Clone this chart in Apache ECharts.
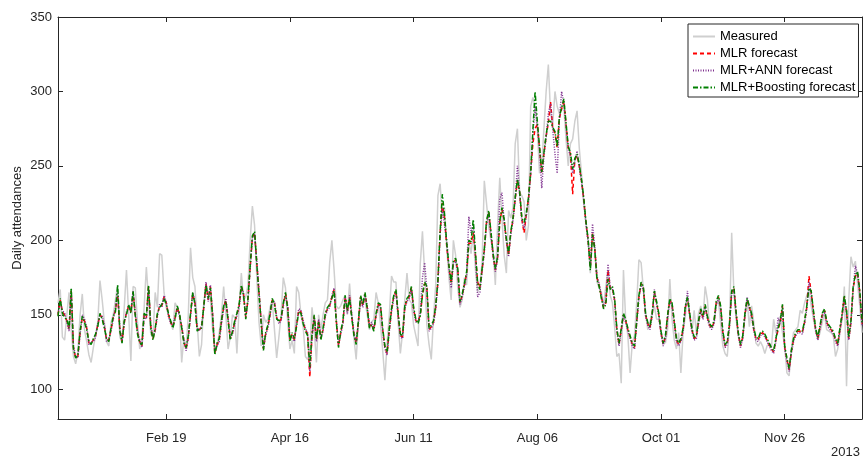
<!DOCTYPE html>
<html><head><meta charset="utf-8">
<script src="https://cdn.jsdelivr.net/npm/echarts@6/dist/echarts.min.js"></script>
<style>html,body{margin:0;padding:0;background:#fff}#c{width:864px;height:459px}</style>
</head><body><div id="c"></div>
<script>
const yearLabel = '2013';
const tickLabels = ['Feb 19','Apr 16','Jun 11','Aug 06','Oct 01','Nov 26'];
const seriesNames = ['Measured','MLR forecast','MLR+ANN forecast','MLR+Boosting forecast'];

const measured = [
158,167,135,133,150,165,140,122,117,125,
150,164,140,132,123,118,128,136,145,173,
160,145,132,129,145,150,160,170,135,131,
155,180,150,119,169,168,145,127,135,155,
182,160,137,135,165,155,191,190,165,155,
150,145,140,158,155,150,118,135,127,150,
195,175,169,145,122,130,158,170,165,160,
140,127,128,138,150,169,150,127,135,150,
148,124,155,178,160,162,170,200,223,210,
175,145,129,150,145,147,155,160,140,121,
135,150,175,168,145,127,133,124,169,165,
150,142,122,120,125,155,140,118,150,140,
150,158,160,185,200,180,156,154,156,160,
163,150,171,150,134,120,145,159,160,160,
150,140,145,147,165,158,144,126,106,131,
150,176,172,172,145,124,138,160,178,160,
158,143,136,129,184,206,178,143,130,120,
148,170,230,238,215,222,195,175,160,200,
190,168,155,160,175,170,200,191,205,180,
165,170,185,240,225,209,200,193,170,210,
242,215,190,178,220,215,222,265,275,232,
230,226,200,210,290,296,290,275,245,250,
275,300,318,285,278,300,290,285,290,290,
268,250,265,268,280,287,262,245,225,212,
200,178,203,195,172,168,165,156,169,180,
163,158,142,122,124,104,180,147,136,111,
131,136,158,187,185,167,153,140,145,152,
156,147,147,139,133,131,140,174,147,133,
127,138,111,138,149,162,149,138,153,138,
151,156,147,169,160,142,142,144,156,160,
144,129,124,122,142,205,165,147,136,131,
133,149,160,142,156,145,131,129,132,129,
124,129,131,128,147,138,142,149,138,129,
111,109,127,138,140,142,153,151,158,163,
167,156,147,140,133,138,145,151,140,139,
138,136,122,127,138,147,169,102,160,189,
182,186,171,156,138];

const mlr = [
150,160,152,150,146,140,166,128,121,122,
138,148,146,141,131,131,133,136,143,150,
148,142,133,133,140,148,153,163,140,132,
145,151,156,152,165,150,138,132,129,150,
148,169,142,134,140,150,156,156,162,158,
150,145,142,148,155,150,142,132,127,135,
150,164,158,140,140,142,155,171,160,169,
150,124,130,133,145,155,160,147,134,138,
145,150,156,169,164,148,160,182,202,205,
185,165,145,127,137,142,150,160,158,148,
145,147,157,164,155,133,137,133,143,153,
152,145,140,137,108,136,149,133,146,134,
140,150,154,156,162,167,146,129,138,145,
162,152,162,149,137,131,145,162,156,164,
155,142,144,140,150,157,156,140,128,124,
140,153,162,166,150,136,135,155,160,162,
168,154,146,145,150,163,171,168,140,142,
145,155,172,205,225,215,196,182,171,185,
187,180,158,163,170,178,198,198,205,190,
172,168,180,193,212,219,205,190,180,188,
212,221,213,200,190,205,214,228,240,232,
214,205,217,228,245,265,275,278,262,245,
258,270,279,293,275,272,262,282,288,294,
278,262,258,231,254,257,250,240,228,212,
200,182,205,195,175,170,162,155,158,180,
168,168,160,140,130,140,150,146,140,135,
130,128,145,162,171,168,150,144,141,150,
165,158,150,138,130,135,149,160,157,145,
133,130,133,140,155,161,150,140,134,135,
145,153,148,156,148,143,141,145,158,162,
155,138,129,131,143,165,168,151,137,129,
135,150,160,155,150,140,134,133,137,138,
136,133,130,127,125,133,140,145,156,128,
120,113,125,133,137,139,139,138,145,155,
176,165,152,140,134,142,150,153,145,142,
140,138,133,130,140,150,162,152,134,145,
168,176,178,165,144];

const ann = [
151,159,153,151,145,139,165,129,122,121,
137,150,147,142,130,132,132,135,144,149,
149,143,132,134,139,147,154,165,141,133,
144,152,155,153,166,151,139,133,128,149,
147,168,143,135,139,149,157,155,163,159,
149,144,143,149,154,149,143,133,126,134,
149,165,159,141,139,143,154,172,159,170,
151,125,129,132,144,154,161,148,135,137,
144,149,155,168,165,149,159,181,201,204,
186,166,146,128,136,141,149,159,159,149,
144,146,156,163,156,134,136,132,144,154,
153,146,141,138,112,135,148,132,147,135,
139,149,153,155,163,168,147,130,137,144,
161,151,163,150,138,132,144,161,155,163,
156,143,145,141,149,156,155,139,127,123,
139,152,161,165,149,135,134,154,159,161,
167,153,145,146,151,175,185,167,139,141,
144,154,171,204,222,210,200,181,168,184,
186,179,157,162,169,177,216,205,211,189,
162,165,179,192,211,218,204,189,179,187,
228,232,212,199,189,204,213,227,250,231,
213,208,216,227,244,271,290,277,261,235,
257,269,285,292,274,258,245,281,300,292,
277,261,257,245,253,260,249,239,227,211,
199,183,211,196,176,171,163,156,159,184,
169,167,159,139,129,139,149,145,139,134,
129,127,144,161,170,167,149,143,140,149,
167,157,149,137,129,134,148,159,156,144,
132,129,132,139,154,166,149,139,133,134,
144,152,147,155,147,142,140,144,157,161,
154,137,128,130,142,164,167,150,136,128,
134,149,162,154,149,139,133,132,136,137,
135,132,129,126,124,132,148,144,155,127,
119,112,124,132,136,138,138,137,144,154,
172,164,151,139,133,141,149,152,144,141,
139,137,132,129,139,149,161,151,133,144,
167,183,177,164,143];

const boost = [
149,161,151,148,147,141,168,127,121,123,
139,149,145,140,132,130,134,137,142,151,
147,141,134,132,141,149,152,170,139,131,
146,150,157,151,166,149,137,131,130,151,
149,170,141,133,141,151,155,157,161,157,
151,146,141,147,156,151,141,131,128,136,
151,165,157,139,141,141,156,170,161,168,
149,123,131,134,146,156,159,146,133,139,
146,151,157,170,163,147,161,183,203,206,
184,164,144,126,138,143,151,161,157,147,
146,148,158,165,154,132,138,134,142,152,
151,144,139,136,115,137,150,134,145,133,
141,151,155,157,161,166,145,128,139,146,
163,153,161,148,136,130,146,163,157,165,
154,141,143,139,151,158,157,141,129,125,
141,154,163,167,151,137,136,156,161,163,
169,155,147,144,149,164,172,169,141,143,
146,156,173,206,231,217,198,183,172,186,
188,181,159,164,171,179,200,199,214,192,
171,167,181,194,213,220,206,191,181,189,
213,222,214,201,191,206,215,229,241,233,
215,212,218,229,246,274,300,280,263,246,
259,271,280,280,276,273,263,283,289,295,
279,263,259,248,255,258,251,241,229,213,
201,180,204,194,174,169,161,154,157,174,
167,169,161,141,131,141,151,147,141,136,
131,129,146,163,172,169,151,145,142,151,
166,159,151,139,131,136,150,161,158,146,
134,131,134,141,156,162,151,141,135,136,
146,154,149,157,149,144,142,146,159,163,
156,139,130,132,144,166,169,152,138,130,
136,151,161,156,151,141,135,134,138,139,
137,134,131,128,126,134,141,146,157,129,
121,114,126,134,138,140,140,139,146,156,
168,166,153,141,135,143,151,154,146,143,
141,139,134,131,141,151,163,153,135,146,
169,177,179,166,145];

// daily categories for 2013
const monthNames = ['Jan','Feb','Mar','Apr','May','Jun','Jul','Aug','Sep','Oct','Nov','Dec'];
const categories = [];
for (let i = 0; i < measured.length; i++) {
  const d = new Date(Date.UTC(2013, 0, 1 + i));
  categories.push(monthNames[d.getUTCMonth()] + ' ' + String(d.getUTCDate()).padStart(2, '0'));
}
const showTick = (idx, val) => tickLabels.indexOf(val) >= 0;

const FONT = "'Liberation Sans', Arial, Helvetica, sans-serif";
const AX = '#262626';

const chart = echarts.init(document.getElementById('c'), null, {renderer: 'canvas'});
chart.setOption({
  animation: false,
  backgroundColor: '#fff',
  textStyle: {fontFamily: FONT},
  grid: {left: 58, right: 2, top: 17, bottom: 40, containLabel: false},
  legend: {
    orient: 'vertical', left: 688, top: 24,
    backgroundColor: '#fff', borderColor: AX, borderWidth: 1,
    padding: [6, 3, 3, 4], itemWidth: 22, itemHeight: 10, itemGap: 4,
    itemStyle: {opacity: 0},
    textStyle: {fontSize: 13, color: '#000', fontFamily: FONT},
    data: seriesNames
  },
  xAxis: [{
    type: 'category', data: categories, boundaryGap: false,
    axisLine: {lineStyle: {color: AX, width: 1}},
    axisTick: {inside: true, length: 5, interval: showTick, lineStyle: {color: AX}},
    axisLabel: {interval: showTick, color: AX, fontSize: 13, margin: 13, fontFamily: FONT},
    splitLine: {show: false}
  }, {
    type: 'category', data: categories, boundaryGap: false, position: 'top',
    axisLine: {lineStyle: {color: AX, width: 1}},
    axisTick: {inside: true, length: 5, interval: showTick, lineStyle: {color: AX}},
    axisLabel: {show: false}, splitLine: {show: false}
  }],
  yAxis: [{
    type: 'value', min: 80, max: 350, splitNumber: 5,
    name: 'Daily attendances', nameLocation: 'middle', nameGap: 34, nameMoveOverlap: false,
    nameTextStyle: {fontSize: 13, color: AX, fontFamily: FONT},
    axisLine: {show: true, lineStyle: {color: AX, width: 1}},
    axisTick: {show: true, inside: true, length: 5, lineStyle: {color: AX}},
    axisLabel: {color: AX, fontSize: 13, margin: 6, fontFamily: FONT,
      formatter: v => (v % 50 === 0 ? String(v) : '')},
    splitLine: {show: false}
  }, {
    type: 'value', min: 80, max: 350, splitNumber: 5, position: 'right',
    axisLine: {show: true, lineStyle: {color: AX, width: 1}},
    axisTick: {show: true, inside: true, length: 5, lineStyle: {color: AX}},
    axisLabel: {show: false}, splitLine: {show: false}
  }],
  graphic: [{
    type: 'text', right: 4, top: 446,
    style: {text: yearLabel, fill: AX, font: "13px 'Liberation Sans', Arial, sans-serif"}
  }],
  series: [
    {name: seriesNames[0], type: 'line', data: measured, symbol: 'none', showSymbol: false,
     lineStyle: {color: '#cfcfcf', width: 1.5, type: 'solid'}, itemStyle: {color: '#cfcfcf'}, z: 1},
    {name: seriesNames[1], type: 'line', data: mlr, symbol: 'none', showSymbol: false,
     lineStyle: {color: '#ff0000', width: 1.5, type: [4, 3]}, itemStyle: {color: '#ff0000'}, z: 2},
    {name: seriesNames[2], type: 'line', data: ann, symbol: 'none', showSymbol: false,
     lineStyle: {color: '#7e2f8e', width: 1.5, type: [1, 1.5]}, itemStyle: {color: '#7e2f8e'}, z: 3},
    {name: seriesNames[3], type: 'line', data: boost, symbol: 'none', showSymbol: false,
     lineStyle: {color: '#008000', width: 1.5, type: [5, 2, 1.5, 2]}, itemStyle: {color: '#008000'}, z: 4}
  ]
});
</script>
</body></html>
